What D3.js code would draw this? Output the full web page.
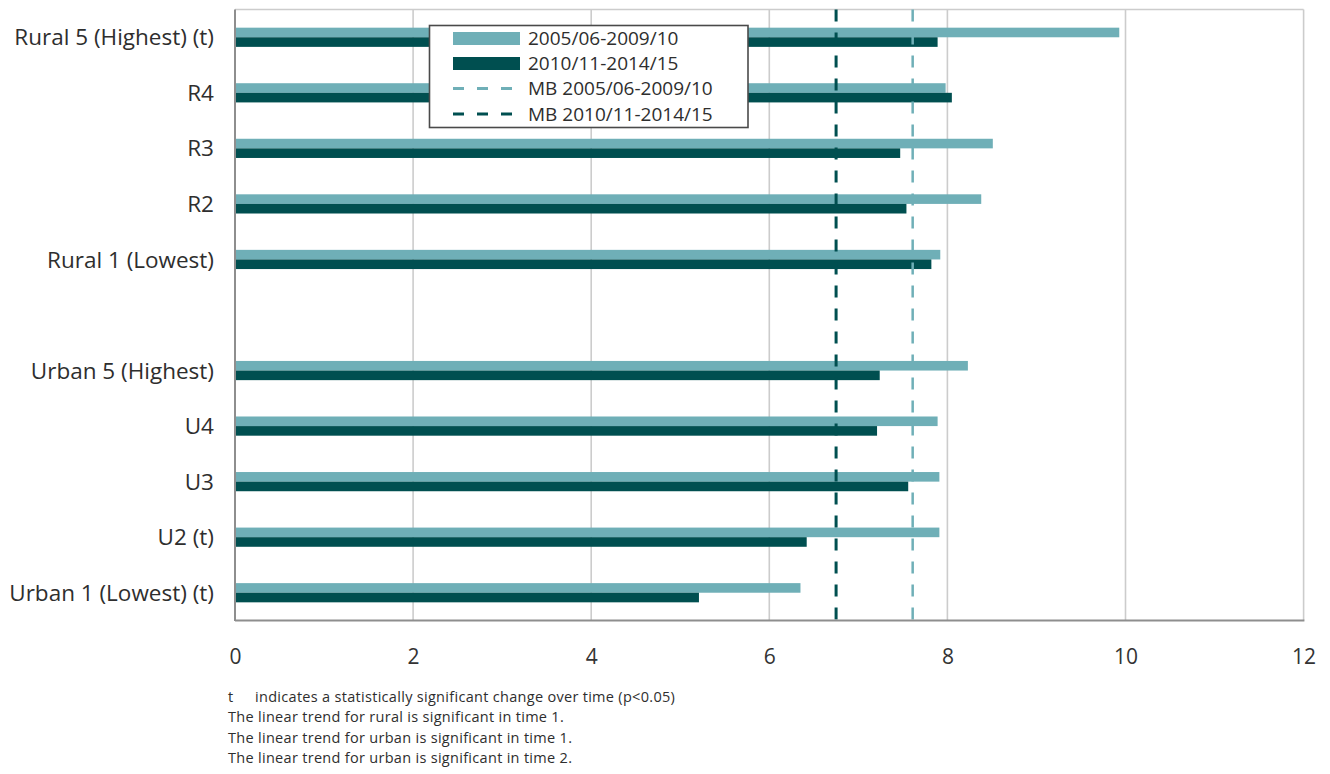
<!DOCTYPE html>
<html>
<head>
<meta charset="utf-8">
<script src="https://cdn.jsdelivr.net/npm/d3@7"></script>
<style>
  html, body { margin: 0; padding: 0; background: #fff; }
  svg { display: block; font-family: "Open Sans", "Noto Sans", sans-serif; }
</style>
</head>
<body>
<svg id="chart" width="1330" height="774"></svg>
<script>
// ---- data ----
const categories = ["Rural 5 (Highest) (t)", "R4", "R3", "R2", "Rural 1 (Lowest)", "",
                    "Urban 5 (Highest)", "U4", "U3", "U2 (t)", "Urban 1 (Lowest) (t)"];
const period1 = [9.93, 7.98, 8.51, 8.38, 7.92, null, 8.23, 7.89, 7.91, 7.91, 6.35];
const period2 = [7.89, 8.05, 7.47, 7.54, 7.82, null, 7.24, 7.21, 7.56, 6.42, 5.21];
const seriesNames = ["2005/06-2009/10", "2010/11-2014/15"];
const mbNames = ["MB 2005/06-2009/10", "MB 2010/11-2014/15"];
const mbValues = [7.61, 6.75];
const xTicks = [0, 2, 4, 6, 8, 10, 12];
const footnotes = [
  "The linear trend for rural is significant in time 1.",
  "The linear trend for urban is significant in time 1.",
  "The linear trend for urban is significant in time 2."
];
const tNote = "indicates a statistically significant change over time (p<0.05)";

// ---- styles ----
const lightCol = "#6fafb7";
const darkCol = "#004f50";
const gridCol = "#cccccc";
const axisCol = "#8e8e8e";

const svg = d3.select("#chart");
const pLeft = 235, pRight = 1303.6, pTop = 9.5, pBottom = 620.5;

const x = d3.scaleLinear().domain([0, 12]).range([pLeft, pRight]);
const y = d3.scaleBand().domain(categories.map((c, i) => i)).range([pTop, pBottom]).padding(0);
const barH = 9.6;

// grid lines
svg.append("g").selectAll("line").data(xTicks.filter(d => d > 0)).join("line")
  .attr("x1", d => x(d)).attr("x2", d => x(d))
  .attr("y1", pTop).attr("y2", pBottom)
  .attr("stroke", gridCol).attr("stroke-width", 1.6);
// top border
svg.append("line").attr("x1", pLeft).attr("x2", pRight).attr("y1", pTop).attr("y2", pTop)
  .attr("stroke", gridCol).attr("stroke-width", 1.6);

// bars
const rows = categories.map((c, i) => ({ i, c, a: period1[i], b: period2[i] })).filter(d => d.a != null);
svg.append("g").selectAll("rect").data(rows).join("rect")
  .attr("x", x(0)).attr("y", d => y(d.i) + y.bandwidth() / 2 - barH)
  .attr("width", d => x(d.a) - x(0)).attr("height", barH)
  .attr("fill", lightCol);
svg.append("g").selectAll("rect").data(rows).join("rect")
  .attr("x", x(0)).attr("y", d => y(d.i) + y.bandwidth() / 2)
  .attr("width", d => x(d.b) - x(0)).attr("height", barH)
  .attr("fill", darkCol);

// MB dashed lines
const mbCols = [lightCol, darkCol];
const mbW = [2.5, 3];
svg.append("g").selectAll("line").data(mbValues).join("line")
  .attr("x1", d => x(d)).attr("x2", d => x(d))
  .attr("y1", pTop).attr("y2", pBottom)
  .attr("stroke", (d, i) => mbCols[i]).attr("stroke-width", (d, i) => mbW[i])
  .attr("stroke-dasharray", "12,11");

// axes lines
svg.append("line").attr("x1", pLeft).attr("x2", pLeft).attr("y1", pTop).attr("y2", pBottom + 0.5)
  .attr("stroke", axisCol).attr("stroke-width", 2);
svg.append("line").attr("x1", pLeft).attr("x2", pRight + 0.8).attr("y1", pBottom).attr("y2", pBottom)
  .attr("stroke", axisCol).attr("stroke-width", 2);

// x axis labels
const xAxis = svg.append("g").attr("transform", `translate(0,${pBottom})`)
  .call(d3.axisBottom(x).tickValues(xTicks).tickSize(0).tickFormat(d3.format("d")));
xAxis.select(".domain").remove();
xAxis.selectAll("text").attr("y", 43.5).attr("dy", 0)
  .attr("font-size", 21).attr("fill", "#333").attr("font-family", "\"Open Sans\", sans-serif");

// y labels
svg.append("g").selectAll("text").data(categories.map((c, i) => ({ c, i })).filter(d => d.c !== "")).join("text")
  .attr("x", 214).attr("y", d => y(d.i) + y.bandwidth() / 2)
  .attr("dy", "0.36em").attr("text-anchor", "end")
  .attr("font-size", 22.5).attr("fill", "#2e2e2e")
  .text(d => d.c);

// legend
const lg = svg.append("g");
lg.append("rect").attr("x", 429.5).attr("y", 25.5).attr("width", 318.5).attr("height", 102)
  .attr("fill", "#fff").attr("stroke", "#4a4a4a").attr("stroke-width", 1.6);
const lgRows = [38.5, 63.5, 88.5, 114];
const lgItems = [
  { name: seriesNames[0], type: "bar", col: lightCol },
  { name: seriesNames[1], type: "bar", col: darkCol },
  { name: mbNames[0], type: "dash", col: lightCol, w: 3 },
  { name: mbNames[1], type: "dash", col: darkCol, w: 3 }
];
lgItems.forEach((it, k) => {
  const cy = lgRows[k];
  if (it.type === "bar") {
    lg.append("rect").attr("x", 453).attr("y", cy - 6.5).attr("width", 67).attr("height", 13).attr("fill", it.col);
  } else {
    lg.append("line").attr("x1", 453).attr("x2", 513).attr("y1", cy).attr("y2", cy)
      .attr("stroke", it.col).attr("stroke-width", it.w).attr("stroke-dasharray", "11,13");
  }
  lg.append("text").attr("x", 528).attr("y", cy).attr("dy", "0.36em")
    .attr("font-size", 19).attr("fill", "#2e2e2e").text(it.name);
});

// footnotes
const fn = svg.append("g").attr("font-size", 14.5).attr("fill", "#2e2e2e").attr("letter-spacing", 0.3);
fn.append("text").attr("x", 228).attr("y", 702).text("t");
fn.append("text").attr("x", 255).attr("y", 702).text(tNote);
fn.selectAll("text.f").data(footnotes).join("text").attr("class", "f")
  .attr("x", 228).attr("y", (d, i) => 722 + i * 20.5).text(d => d);
</script>
</body>
</html>
